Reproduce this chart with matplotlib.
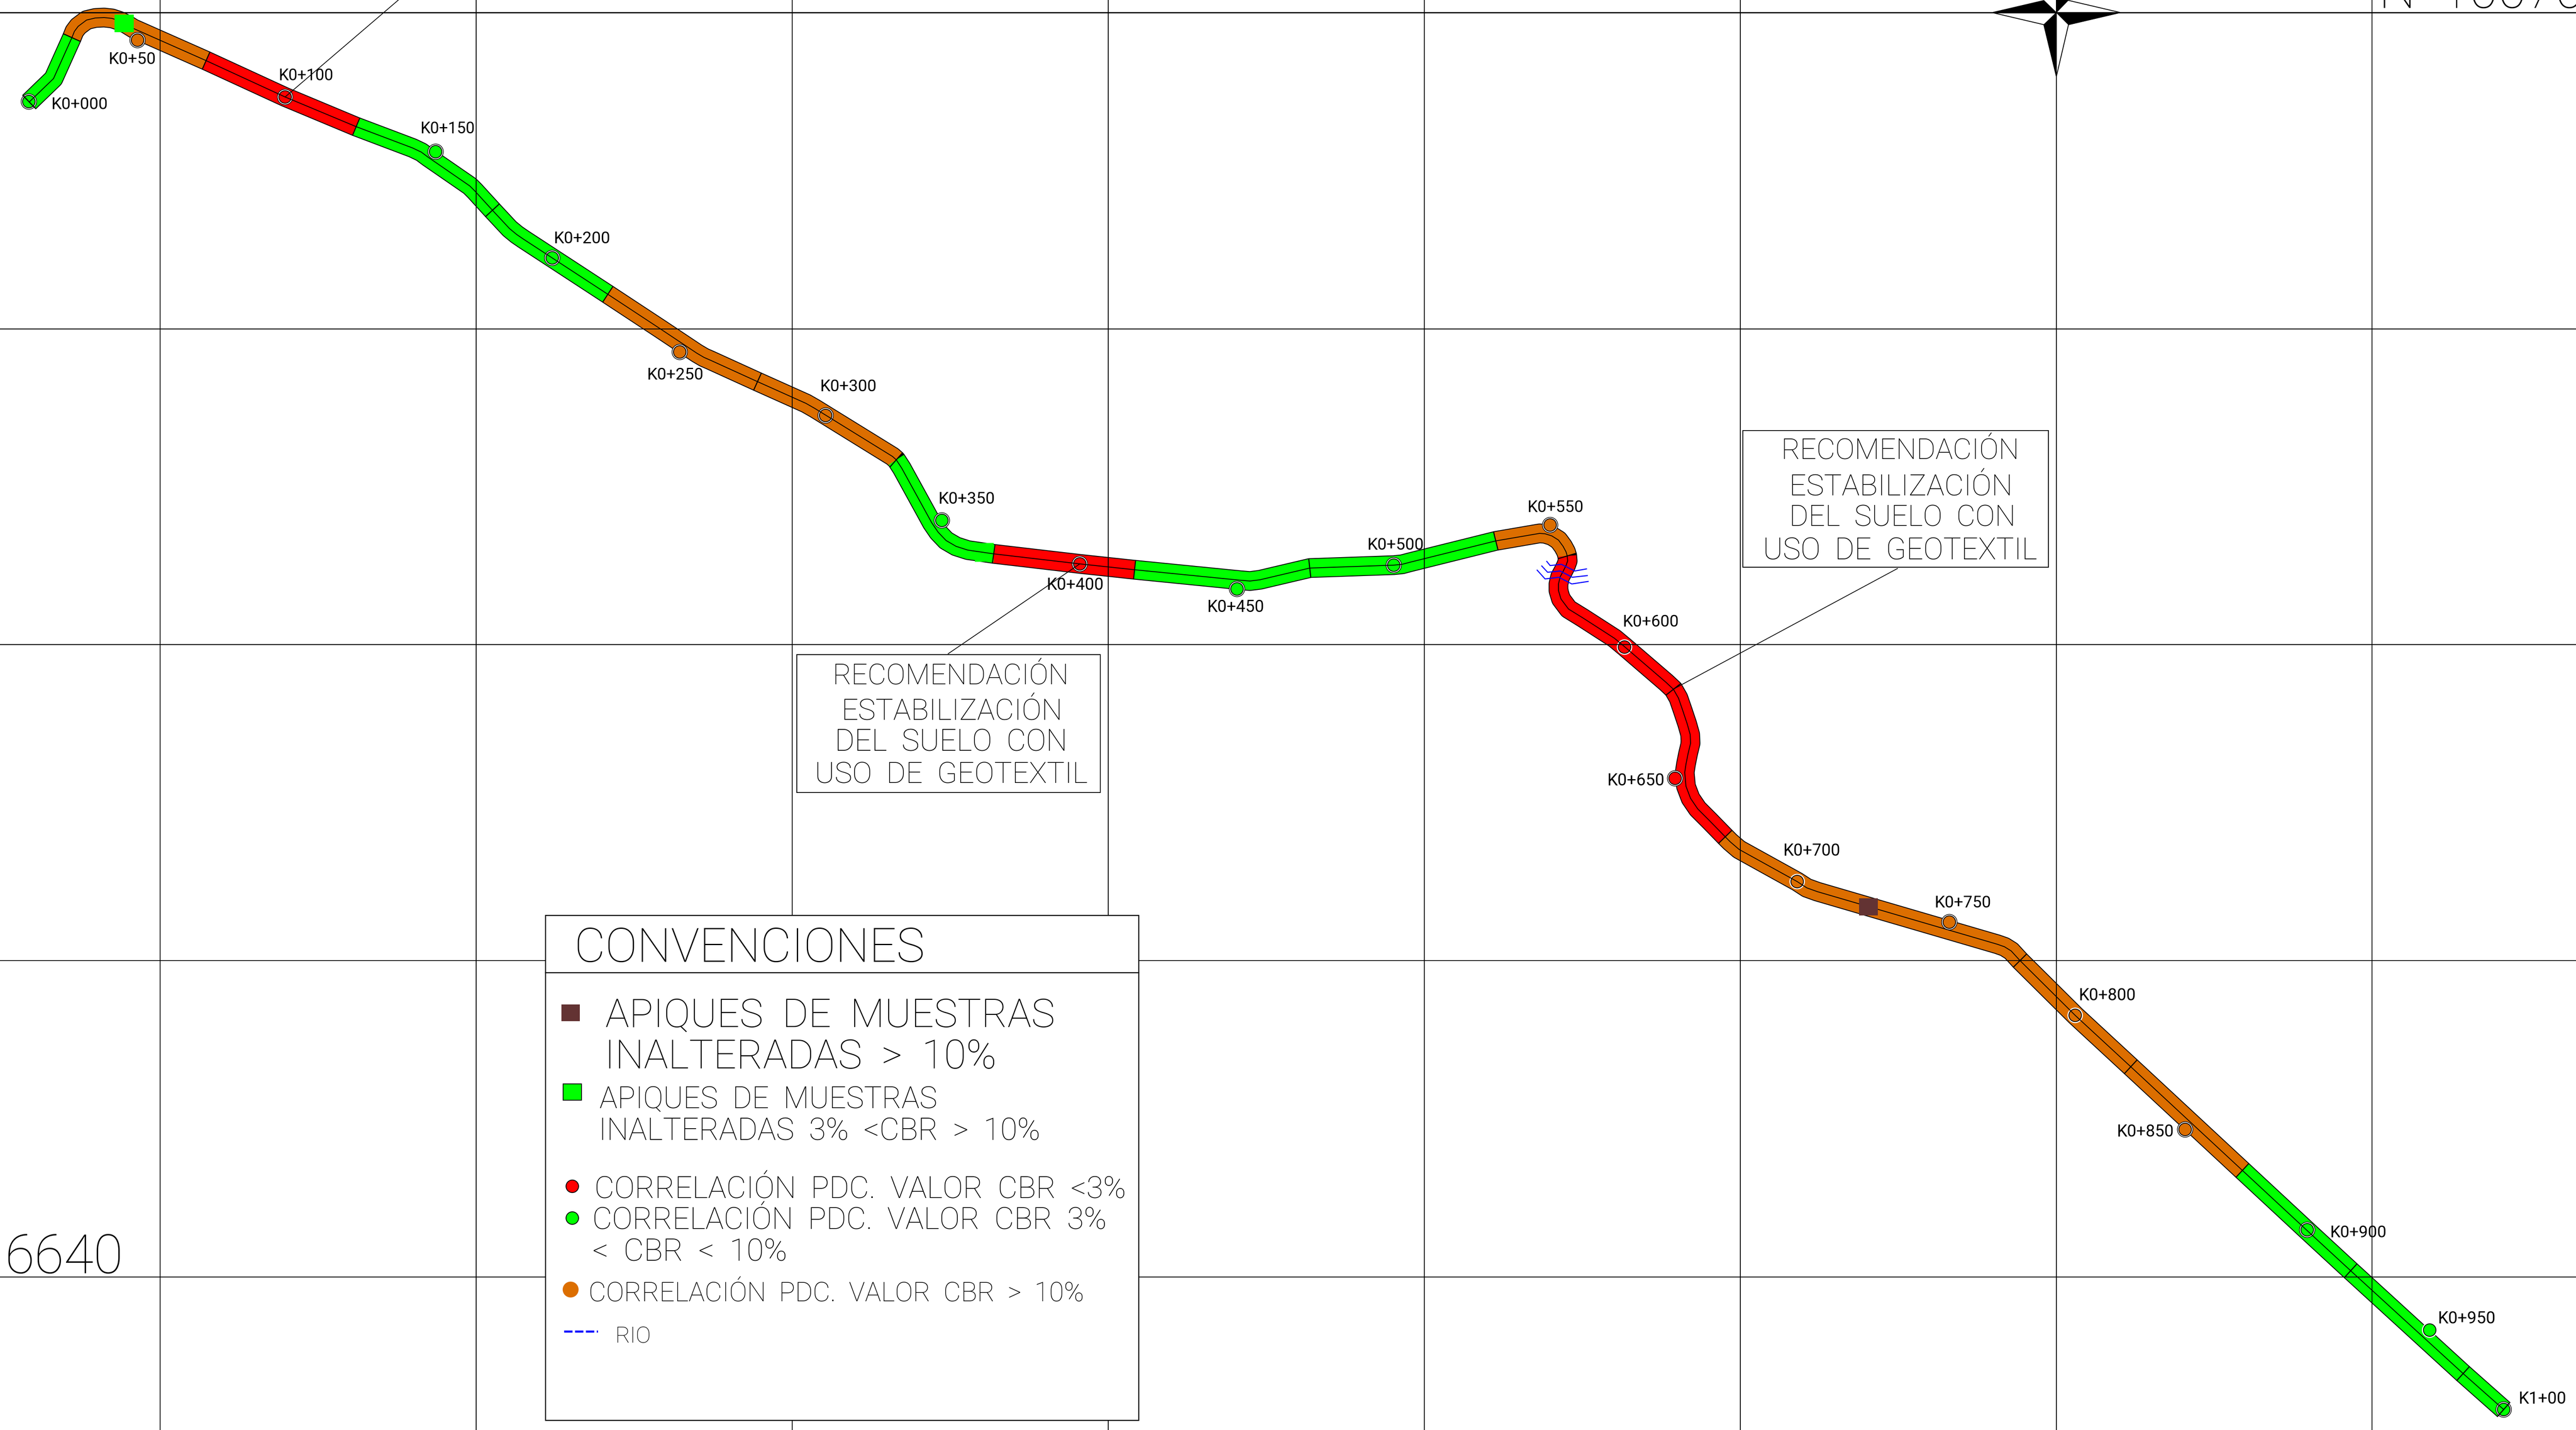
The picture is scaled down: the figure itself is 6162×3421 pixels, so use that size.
import matplotlib
matplotlib.use("Agg")
import matplotlib.pyplot as plt
from matplotlib.patches import Circle, Polygon, Rectangle
import numpy as np

W, H = 6162, 3421

GREEN = "#00ff00"
RED = "#ff0000"
ORANGE = "#dc6e00"
BROWN = "#633333"
BLUE = "#0000ff"

# map grid, read in picture pixels
grid_x = [383, 1139, 1895, 2651, 3407, 4163, 4919, 5674]
grid_y = [30, 787, 1542, 2298, 3055]

# road centreline, one list per coloured stretch
sec_colors = [GREEN, ORANGE, RED, GREEN, ORANGE, GREEN, RED, GREEN, ORANGE, RED, ORANGE, GREEN]
sec_x = [
    [70, 128, 172],
    [172, 178, 187, 207, 228, 249, 268, 286, 303, 319, 493],
    [493, 682, 852],
    [852, 987, 1008, 1024, 1124, 1136, 1178, 1219, 1236, 1252, 1454],
    [1454, 1580, 1667, 1684, 1700, 1812, 1928, 1949, 2135, 2144],
    [2144, 2157, 2229, 2244, 2263, 2287, 2315, 2377],
    [2377, 2583, 2714],
    [2714, 2966, 2990, 3014, 3133, 3334, 3354, 3373, 3578],
    [3578, 3683, 3696, 3712, 3728, 3739, 3746, 3749],
    [3749, 3750, 3746, 3739, 3732, 3728, 3728, 3734, 3752, 3786, 3862, 3886, 3986, 4003, 4015, 4025, 4036, 4043,
     4044, 4038, 4033, 4030, 4033, 4044, 4061, 4090, 4127],
    [4127, 4139, 4160, 4299, 4322, 4347, 4778, 4795, 4811, 4832, 4965, 5097, 5364],
    [5364, 5519, 5623, 5892, 5989],
]
sec_y = [
    [244, 188, 90],
    [90, 75, 63, 48, 43, 42, 44, 50, 58, 68, 145],
    [145, 232, 303],
    [303, 354, 364, 376, 445, 457, 503, 547, 561, 572, 704],
    [704, 787, 845, 855, 862, 913, 965, 977, 1092, 1100],
    [1100, 1120, 1251, 1273, 1293, 1307, 1316, 1325],
    [1325, 1349, 1363],
    [1363, 1388, 1390, 1387, 1359, 1352, 1350, 1345, 1294],
    [1294, 1276, 1277, 1282, 1292, 1307, 1320, 1330],
    [1330, 1342, 1353, 1367, 1380, 1397, 1413, 1433, 1457, 1478, 1527, 1547, 1633, 1649, 1670, 1699, 1732, 1757,
     1778, 1803, 1828, 1848, 1881, 1910, 1935, 1964, 2002],
    [2002, 2014, 2032, 2109, 2124, 2133, 2259, 2265, 2275, 2298, 2430, 2552, 2800],
    [2800, 2944, 3040, 3286, 3372],
]

# extra cross ticks on the road
tick_x = [1178, 1812, 3133, 4003, 4832, 5097, 5623, 5892]
tick_y = [503, 913, 1359, 1649, 2298, 2552, 3040, 3286]

# stations
st_names = ["K0+000", "K0+50", "K0+100", "K0+150", "K0+200", "K0+250", "K0+300", "K0+350", "K0+400", "K0+450", "K0+500",
            "K0+550", "K0+600", "K0+650", "K0+700", "K0+750", "K0+800", "K0+850", "K0+900", "K0+950", "K1+00"]
st_x = [69, 329, 682, 1042, 1321, 1626, 1975, 2253, 2583, 2959, 3334, 3708, 3886, 4007, 4299, 4663, 4964, 5227, 5519, 5812, 5989]
st_y = [243, 96, 232, 363, 617, 842, 994, 1245, 1349, 1409, 1352, 1256, 1548, 1862, 2109, 2206, 2429, 2702, 2942, 3182, 3372]
st_colors = [GREEN, ORANGE, RED, GREEN, GREEN, ORANGE, ORANGE, GREEN, RED, GREEN, GREEN,
             ORANGE, RED, RED, ORANGE, ORANGE, ORANGE, ORANGE, GREEN, GREEN, GREEN]
st_no_outer = ["K0+600", "K0+700", "K0+800", "K0+950"]
lab_left = [123, 260, 667, 1006, 1325, 1548, 1962, 2245, 2504, 2888, 3271, 3654, 3882, 3845, 4266, 4628, 4973, 5064, 5574, 5832, 6025]
lab_right = [258, 373, 798, 1136, 1460, 1683, 2097, 2380, 2640, 3024, 3406, 3788, 4016, 3982, 4402, 4763, 5109, 5200, 5709, 5970, 6139]
lab_cy = [247, 139, 178, 306, 568, 894, 922, 1191, 1397, 1450, 1301, 1211, 1485, 1865, 2033, 2157, 2379, 2705, 2946, 3152, 3344]

# river crossing
river_x = [[3700, 3708, 3735, 3767, 3795], [3688, 3702, 3732, 3761, 3797], [3677, 3696, 3729, 3760, 3799]]
river_y = [[1343, 1353, 1350, 1366, 1361], [1354, 1369, 1366, 1381, 1377], [1364, 1385, 1381, 1397, 1391]]

# callouts
box_lines = ["RECOMENDACIÓN", "ESTABILIZACIÓN", "DEL  SUELO  CON", "USO  DE  GEOTEXTIL"]
box1_left = [1992, 2012, 1997, 1949]
box1_right = [2557, 2542, 2553, 2602]
box1_cy = [1612, 1696, 1771, 1848]
box2_left = [4260, 4280, 4280, 4217]
box2_right = [4830, 4814, 4822, 4873]
box2_cy = [1073, 1159, 1234, 1313]

# legend text
leg_lines = ["CONVENCIONES", "APIQUES  DE  MUESTRAS", "INALTERADAS  >  10%", "APIQUES  DE  MUESTRAS",
             "INALTERADAS  3%  <CBR  >  10%", "CORRELACIÓN  PDC.  VALOR  CBR  <3%", "CORRELACIÓN  PDC.  VALOR  CBR  3%",
             "<  CBR  <  10%", "CORRELACIÓN  PDC.  VALOR  CBR  >  10%", "RIO"]
leg_left = [1374, 1448, 1446, 1434, 1432, 1422, 1417, 1417, 1408, 1472]
leg_right = [2212, 2523, 2384, 2242, 2489, 2695, 2647, 1883, 2594, 1558]
leg_cy = [2260, 2423, 2522, 2625, 2701, 2840, 2915, 2990, 3091, 3193]

plt.rcParams["font.family"] = ["Roboto", "DejaVu Sans"]
plt.rcParams["font.weight"] = "light"

fig = plt.figure(figsize=(W / 100, H / 100), dpi=100, facecolor="white")
ax = fig.add_axes([0, 0, 1, 1])
ax.set_xlim(0, W)
ax.set_ylim(H, 0)
ax.axis("off")
renderer = fig.canvas.get_renderer()

PX = 72 / 100  # points per pixel


def put_text(s, left, right, cy, z=6, weight="light"):
    # size the string so it spans left..right, caps centred on cy
    t = ax.text(left, cy, s, fontsize=30, va="baseline", ha="left", color="black", zorder=z, fontweight=weight)
    w = t.get_window_extent(renderer).width
    fs = 30 * (right - left) / w
    t.set_fontsize(fs)
    t.set_y(cy + 0.355 * fs / PX)
    return t


# road
all_x = [v for s in sec_x for v in s]
all_y = [v for s in sec_y for v in s]
ax.plot(all_x, all_y, color="black", lw=47 * PX, solid_capstyle="butt", solid_joinstyle="round", zorder=2)
for xs, ys, c in zip(sec_x, sec_y, sec_colors):
    ax.plot(xs, ys, color=c, lw=43 * PX, solid_capstyle="butt", solid_joinstyle="round", zorder=2.1)
ax.plot(all_x, all_y, color="black", lw=2 * PX, solid_joinstyle="round", zorder=4)


def cross_tick(x, y):
    d = (np.array(all_x) - x) ** 2 + (np.array(all_y) - y) ** 2
    i = int(np.argmin(d))
    a, b = max(i - 1, 0), min(i + 1, len(all_x) - 1)
    tx, ty = all_x[b] - all_x[a], all_y[b] - all_y[a]
    n = np.hypot(tx, ty)
    ax.plot([x - ty / n * 22, x + ty / n * 22], [y + tx / n * 22, y - tx / n * 22], color="black", lw=2.5 * PX, zorder=4)


for xs, ys in zip(sec_x, sec_y):
    cross_tick(xs[0], ys[0])
cross_tick(sec_x[-1][-1], sec_y[-1][-1])
for x, y in zip(tick_x, tick_y):
    cross_tick(x, y)

# station circles
for name, x, y, c in zip(st_names, st_x, st_y, st_colors):
    ec = "none" if name in st_no_outer else "black"
    ax.add_patch(Circle((x, y), 18.5, fc="white", ec=ec, lw=1.5 * PX, zorder=3))
    ax.add_patch(Circle((x, y), 15, fc=c, ec="black", lw=2 * PX, zorder=3.1))

# grid goes over the road
for x in grid_x:
    ax.plot([x, x], [0, H], color="black", lw=2 * PX, zorder=4.5)
for y in grid_y:
    ax.plot([0, W], [y, y], color="black", lw=(3 if y == 30 else 2) * PX, zorder=4.5)

for name, l, r, cy in zip(st_names, lab_left, lab_right, lab_cy):
    put_text(name, l, r, cy, weight="normal")

# apique markers on the road
ax.add_patch(Rectangle((274, 35), 46, 42, fc=GREEN, ec="none", zorder=5))
ax.add_patch(Rectangle((2332, 1299), 45, 45, fc=GREEN, ec="none", zorder=3.5))
ax.add_patch(Rectangle((4447, 2149), 45, 41, fc=BROWN, ec="none", zorder=5))

# river
for xs, ys in zip(river_x, river_y):
    ax.plot(xs, ys, color=BLUE, lw=2.5 * PX, zorder=5)

# leaders
ax.plot([682, 953], [232, 0], color="black", lw=1.8 * PX, zorder=4.6)
ax.plot([2268, 2583], [1564, 1349], color="black", lw=1.8 * PX, zorder=4.6)
ax.plot([4539, 4004], [1360, 1648], color="black", lw=1.8 * PX, zorder=4.6)

# callout boxes
ax.add_patch(Rectangle((1906, 1566), 726, 330, fc="white", ec="black", lw=2 * PX, zorder=5))
ax.add_patch(Rectangle((4169, 1030), 731, 327, fc="white", ec="black", lw=2 * PX, zorder=5))
for s, l, r, cy in zip(box_lines, box1_left, box1_right, box1_cy):
    put_text(s, l, r, cy)
for s, l, r, cy in zip(box_lines, box2_left, box2_right, box2_cy):
    put_text(s, l, r, cy)

# legend
ax.add_patch(Rectangle((1305, 2190), 1419, 1208, fc="white", ec="black", lw=2.5 * PX, zorder=5))
ax.plot([1305, 2724], [2327, 2327], color="black", lw=2.5 * PX, zorder=5.1)
for s, l, r, cy in zip(leg_lines, leg_left, leg_right, leg_cy):
    put_text(s, l, r, cy)
ax.add_patch(Rectangle((1343, 2403), 44, 40, fc=BROWN, ec="none", zorder=6))
ax.add_patch(Rectangle((1347, 2593), 44, 39, fc=GREEN, ec="black", lw=2 * PX, zorder=6))
ax.add_patch(Circle((1369, 2838), 15, fc=RED, ec="black", lw=2 * PX, zorder=6))
ax.add_patch(Circle((1369, 2914), 15, fc=GREEN, ec="black", lw=2 * PX, zorder=6))
ax.add_patch(Circle((1365, 3085), 19, fc=ORANGE, ec="none", zorder=6))
ax.plot([1349, 1430], [3185, 3185], color=BLUE, lw=5 * PX, ls=(0, (4, 1.2)), zorder=6)

# north arrow, cut by the top edge
ax.add_patch(Polygon([(4765, 30), (4889, 1), (4919, 30)], fc="black", ec="black", lw=1.5 * PX, zorder=5))
ax.add_patch(Polygon([(4919, 30), (4919, 0), (4948, 0)], fc="black", ec="black", lw=1.5 * PX, zorder=5))
ax.add_patch(Polygon([(4919, 30), (5072, 30), (4948, 59)], fc="black", ec="black", lw=1.5 * PX, zorder=5))
ax.add_patch(Polygon([(4919, 30), (4889, 59), (4919, 183)], fc="black", ec="black", lw=1.5 * PX, zorder=5))
ax.plot([4765, 4889, 4919, 4948, 5072], [30, 59, 183, 59, 30], color="black", lw=2 * PX, zorder=5)
ax.plot([4948, 5072], [1, 30], color="black", lw=2 * PX, zorder=5)

# sheet coordinates
put_text("6640", 12, 295, 3000)
ax.text(5690, 19, "N  10070", fontsize=90, va="baseline", ha="left", clip_on=True, zorder=6)

fig.savefig("out.png", dpi=100, facecolor="white")
